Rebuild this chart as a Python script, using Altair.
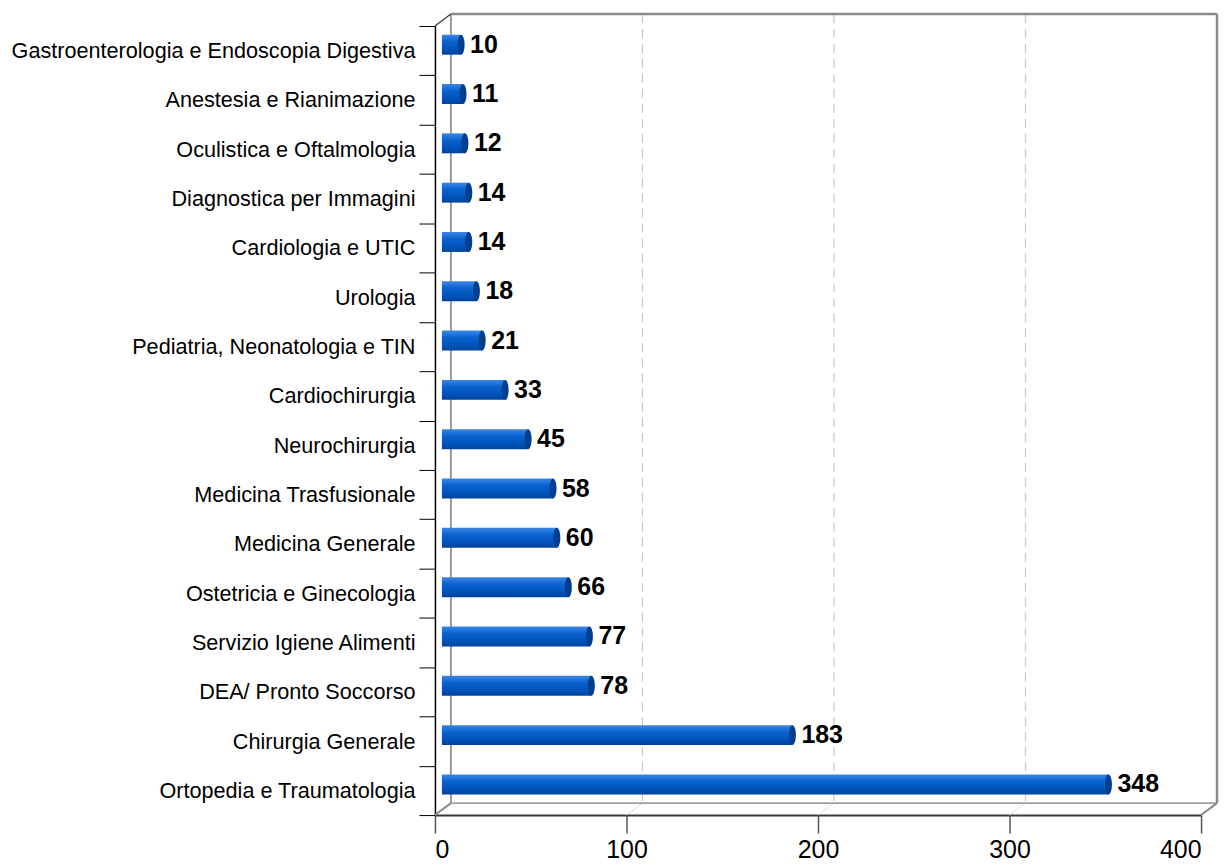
import altair as alt
import pandas as pd

categories = [
    "Gastroenterologia e Endoscopia Digestiva",
    "Anestesia e Rianimazione",
    "Oculistica e Oftalmologia",
    "Diagnostica per Immagini",
    "Cardiologia e UTIC\u2002",
    "Urologia\u2002\u2002",
    "Pediatria, Neonatologia e TIN",
    "Cardiochirurgia",
    "Neurochirurgia",
    "Medicina Trasfusionale",
    "Medicina Generale\u2002",
    "Ostetricia e Ginecologia",
    "Servizio Igiene Alimenti",
    "DEA/ Pronto Soccorso\u2002",
    "Chirurgia Generale\u2002",
    "Ortopedia e Traumatologia",
]
values = [10, 11, 12, 14, 14, 18, 21, 33, 45, 58, 60, 66, 77, 78, 183, 348]
grid_values = [100, 200, 300]
x_ticks = [0, 100, 200, 300, 400]

W, H = 768, 791
DX, DY = 16, -12          # depth offset of back wall
BX, BY = 7, -6            # bars sit mid-depth

df = pd.DataFrame({"cat": categories, "val": values})
grid_df = pd.DataFrame({"g": grid_values})
edge_df = pd.DataFrame({"a": [0], "b": [400]})

FONT = "Liberation Sans"
xscale = alt.Scale(domain=[0, 400], nice=False, zero=True)
yscale = alt.Scale(domain=categories, paddingInner=0, paddingOuter=0)

base = alt.Chart(df)

bar_grad = alt.Gradient(
    gradient="linear",
    stops=[
        alt.GradientStop(color="#3b86e6", offset=0),
        alt.GradientStop(color="#0a62cf", offset=0.35),
        alt.GradientStop(color="#0052b8", offset=0.75),
        alt.GradientStop(color="#00439c", offset=1),
    ],
    x1=0, x2=0, y1=0, y2=1,
)

bars = base.mark_bar(fill=bar_grad, size=20, xOffset=BX, yOffset=BY).encode(
    x=alt.X("val:Q", scale=xscale,
            axis=alt.Axis(values=x_ticks, title=None, grid=False, tickSize=18,
                          tickColor="#555555", domainColor="#3a3a3a", domainWidth=2,
                          labelFontSize=25, labelFont=FONT, labelColor="#000000",
                          labelPadding=5, tickWidth=1.5)),
    y=alt.Y("cat:N", scale=yscale, sort=None,
            axis=alt.Axis(title=None, tickBand="extent", tickSize=16, tickColor="#000000",
                          domainColor="#000000", domainWidth=1.5, labelFontSize=21.7,
                          labelFont=FONT, labelColor="#000000", labelPadding=4,
                          labelLimit=0)),
)

caps = base.mark_point(
    shape="M0,-1 A0.35,1 0 1,1 0,1 A0.35,1 0 1,1 0,-1 Z",
    filled=True, size=400, color="#003f8f", opacity=1,
    xOffset=BX, yOffset=BY,
).encode(x=alt.X("val:Q", scale=xscale), y=alt.Y("cat:N", scale=yscale, sort=None))

labels = base.mark_text(
    align="left", baseline="middle", dx=BX + 9, yOffset=BY,
    font=FONT, fontSize=25, fontWeight="bold", color="#000000",
).encode(x=alt.X("val:Q", scale=xscale), y=alt.Y("cat:N", scale=yscale, sort=None),
         text="val:Q")

grid = alt.Chart(grid_df).mark_rule(
    color="#c8c8c8", strokeWidth=1.2, strokeDash=[9, 6],
    xOffset=DX, x2Offset=DX, yOffset=DY, y2Offset=DY,
).encode(x=alt.X("g:Q", scale=xscale), y=alt.value(0), y2=alt.value(H))

grid_floor = alt.Chart(grid_df).mark_rule(
    color="#d8d8d8", strokeWidth=1, x2Offset=DX, y2Offset=DY,
).encode(x=alt.X("g:Q", scale=xscale), x2="g:Q", y=alt.value(H), y2=alt.value(H))

edges = alt.Chart(edge_df)
wall_kw = dict(color="#8a8a8a", strokeWidth=2.5,
               xOffset=DX, x2Offset=DX, yOffset=DY, y2Offset=DY)
back_top = edges.mark_rule(**wall_kw).encode(
    x=alt.X("a:Q", scale=xscale), x2="b:Q", y=alt.value(0))
back_right = edges.mark_rule(**wall_kw).encode(
    x=alt.X("b:Q", scale=xscale), y=alt.value(0), y2=alt.value(H))
back_left = edges.mark_rule(color="#9a9a9a", strokeWidth=2, xOffset=DX, x2Offset=DX,
                            yOffset=DY, y2Offset=DY).encode(
    x=alt.X("a:Q", scale=xscale), y=alt.value(0), y2=alt.value(H))
back_bottom = edges.mark_rule(color="#a0a0a0", strokeWidth=1.8, xOffset=DX, x2Offset=DX,
                              yOffset=DY, y2Offset=DY).encode(
    x=alt.X("a:Q", scale=xscale), x2="b:Q", y=alt.value(H))

diag_top_left = edges.mark_rule(color="#333333", strokeWidth=1.2,
                                x2Offset=DX, y2Offset=DY).encode(
    x=alt.X("a:Q", scale=xscale), x2="a:Q", y=alt.value(0), y2=alt.value(0))
diag_bot_left = edges.mark_rule(color="#8a8a8a", strokeWidth=2,
                                x2Offset=DX, y2Offset=DY).encode(
    x=alt.X("a:Q", scale=xscale), x2="a:Q", y=alt.value(H), y2=alt.value(H))
diag_bot_right = edges.mark_rule(color="#8a8a8a", strokeWidth=2,
                                 x2Offset=DX, y2Offset=DY).encode(
    x=alt.X("b:Q", scale=xscale), x2="b:Q", y=alt.value(H), y2=alt.value(H))

chart = alt.layer(
    grid_floor, grid, back_bottom, back_left, back_top, back_right,
    diag_top_left, diag_bot_left, diag_bot_right,
    bars, caps, labels,
).properties(
    width=W, height=H,
    padding={"left": 2, "top": 3, "right": 5, "bottom": 0},
    background="#ffffff",
).configure_view(stroke=None)

chart.save("out.html", embed_options={"renderer": "svg", "actions": False})
